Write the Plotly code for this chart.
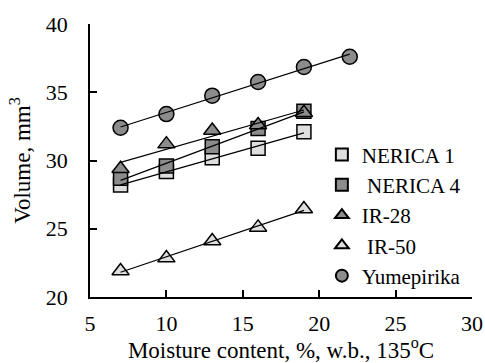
import numpy as np
import plotly.graph_objects as go

moisture = [7, 10, 13, 16, 19]
moisture_yume = [7, 10, 13, 16, 19, 22]
nerica1 = [28.2, 29.2, 30.2, 30.9, 32.1]
nerica4 = [28.7, 29.6, 31.0, 32.35, 33.6]
ir28 = [29.4, 31.2, 32.2, 32.6, 33.5]
ir50 = [21.9, 22.85, 24.1, 25.1, 26.45]
yumepirika = [32.4, 33.4, 34.75, 35.75, 36.85, 37.6]

series = [
    ("NERICA 1", moisture, nerica1, "square", "#dedede", 14),
    (" NERICA 4", moisture, nerica4, "square", "#8c8c8c", 14),
    ("IR-28", moisture, ir28, "triangle-up", "#8c8c8c", 15),
    (" IR-50", moisture, ir50, "triangle-up", "#dedede", 15),
    ("Yumepirika", moisture_yume, yumepirika, "circle", "#8c8c8c", 15),
]

font = "Liberation Serif, Times New Roman, serif"
fig = go.Figure()
for i, (name, xs, ys, sym, col, sz) in enumerate(series):
    fig.add_trace(go.Scatter(
        x=xs, y=ys, mode="markers", name=name, legendgroup=str(i),
        marker=dict(symbol=sym, size=sz, color=col, line=dict(color="black", width=1.5)),
    ))
for i, (name, xs, ys, sym, col, sz) in enumerate(series):
    k, b = np.polyfit(xs, ys, 1)
    xe = [xs[0], xs[-1]]
    fig.add_trace(go.Scatter(
        x=xe, y=[k * v + b for v in xe], mode="lines", showlegend=False,
        line=dict(color="black", width=1.2), hoverinfo="skip",
    ))

fig.update_layout(
    width=485, height=363,
    margin=dict(l=90, r=13, t=24, b=66, autoexpand=False),
    paper_bgcolor="white", plot_bgcolor="white",
    font=dict(family=font, size=22, color="black"),
    showlegend=True,
    legend=dict(x=0.607, y=0.596, xanchor="left", yanchor="top",
                font=dict(size=21), bgcolor="rgba(0,0,0,0)",
                tracegroupgap=0, itemwidth=30, itemsizing="constant"),
    xaxis=dict(range=[5, 30], dtick=5, showgrid=False, zeroline=False,
               showline=True, linecolor="black", linewidth=1.5,
               ticks="inside", ticklen=7, tickwidth=1.5, tickcolor="black",
               ticklabelstandoff=6, automargin=False,
               title=dict(text="Moisture content, %, w.b., 135<sup>o</sup>C", standoff=11,
                          font=dict(size=23))),
    yaxis=dict(range=[20, 40], dtick=5, showgrid=False, zeroline=False,
               showline=True, linecolor="black", linewidth=1.5,
               ticks="inside", ticklen=7, tickwidth=1.5, tickcolor="black",
               ticklabelstandoff=16, automargin=False,
               title=dict(text="Volume, mm<sup>3</sup>", standoff=9,
                          font=dict(size=23))),
)
fig.write_html(
    "out.html",
    config={"displayModeBar": False},
    post_script="document.body.style.margin='0';document.body.style.overflow='hidden';",
)
